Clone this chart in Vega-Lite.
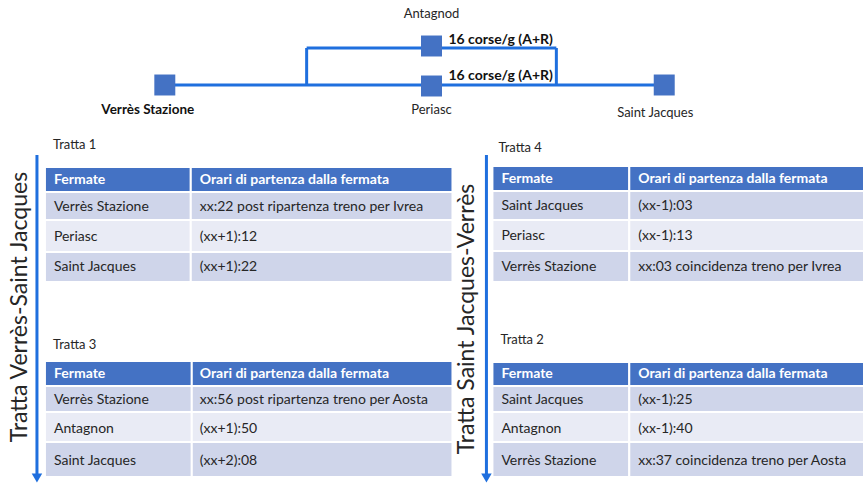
{
  "$schema": "https://vega.github.io/schema/vega-lite/v6.json",
  "width": 865,
  "height": 486,
  "autosize": {"type": "fit", "contains": "padding"},
  "padding": 0,
  "background": "white",
  "config": {"view": {"stroke": null}, "font": "Lato"},
  "datasets": {
    "cells": [
      {"t": "T1", "x": 45, "x2": 191, "y": 167, "y2": 192, "kind": "header"},
      {"t": "T1", "x": 191, "x2": 453, "y": 167, "y2": 192, "kind": "header"},
      {"t": "T1", "x": 45, "x2": 191, "y": 192, "y2": 220, "kind": "odd"},
      {"t": "T1", "x": 191, "x2": 453, "y": 192, "y2": 220, "kind": "odd"},
      {"t": "T1", "x": 45, "x2": 191, "y": 220, "y2": 252, "kind": "even"},
      {"t": "T1", "x": 191, "x2": 453, "y": 220, "y2": 252, "kind": "even"},
      {"t": "T1", "x": 45, "x2": 191, "y": 252, "y2": 282, "kind": "odd"},
      {"t": "T1", "x": 191, "x2": 453, "y": 252, "y2": 282, "kind": "odd"},
      {"t": "T3", "x": 45, "x2": 192, "y": 361, "y2": 386, "kind": "header"},
      {"t": "T3", "x": 192, "x2": 453, "y": 361, "y2": 386, "kind": "header"},
      {"t": "T3", "x": 45, "x2": 192, "y": 386, "y2": 412, "kind": "odd"},
      {"t": "T3", "x": 192, "x2": 453, "y": 386, "y2": 412, "kind": "odd"},
      {"t": "T3", "x": 45, "x2": 192, "y": 412, "y2": 442, "kind": "even"},
      {"t": "T3", "x": 192, "x2": 453, "y": 412, "y2": 442, "kind": "even"},
      {"t": "T3", "x": 45, "x2": 192, "y": 442, "y2": 477, "kind": "odd"},
      {"t": "T3", "x": 192, "x2": 453, "y": 442, "y2": 477, "kind": "odd"},
      {"t": "T4", "x": 493, "x2": 630, "y": 166, "y2": 191, "kind": "header"},
      {"t": "T4", "x": 630, "x2": 865, "y": 166, "y2": 191, "kind": "header"},
      {"t": "T4", "x": 493, "x2": 630, "y": 191, "y2": 220, "kind": "odd"},
      {"t": "T4", "x": 630, "x2": 865, "y": 191, "y2": 220, "kind": "odd"},
      {"t": "T4", "x": 493, "x2": 630, "y": 220, "y2": 251, "kind": "even"},
      {"t": "T4", "x": 630, "x2": 865, "y": 220, "y2": 251, "kind": "even"},
      {"t": "T4", "x": 493, "x2": 630, "y": 251, "y2": 282, "kind": "odd"},
      {"t": "T4", "x": 630, "x2": 865, "y": 251, "y2": 282, "kind": "odd"},
      {"t": "T2", "x": 493, "x2": 630, "y": 362, "y2": 386, "kind": "header"},
      {"t": "T2", "x": 630, "x2": 865, "y": 362, "y2": 386, "kind": "header"},
      {"t": "T2", "x": 493, "x2": 630, "y": 386, "y2": 412, "kind": "odd"},
      {"t": "T2", "x": 630, "x2": 865, "y": 386, "y2": 412, "kind": "odd"},
      {"t": "T2", "x": 493, "x2": 630, "y": 412, "y2": 442, "kind": "even"},
      {"t": "T2", "x": 630, "x2": 865, "y": 412, "y2": 442, "kind": "even"},
      {"t": "T2", "x": 493, "x2": 630, "y": 442, "y2": 477, "kind": "odd"},
      {"t": "T2", "x": 630, "x2": 865, "y": 442, "y2": 477, "kind": "odd"}
    ],
    "texts": [
      {"role": "head", "x": 54, "y": 180, "text": "Fermate"},
      {"role": "head", "x": 200, "y": 180, "text": "Orari di partenza dalla fermata"},
      {"role": "cell", "x": 54, "y": 207, "text": "Verrès Stazione"},
      {"role": "cell", "x": 200, "y": 207, "text": "xx:22 post ripartenza treno per Ivrea"},
      {"role": "cell", "x": 54, "y": 237, "text": "Periasc"},
      {"role": "cell", "x": 200, "y": 237, "text": "(xx+1):12"},
      {"role": "cell", "x": 54, "y": 267, "text": "Saint Jacques"},
      {"role": "cell", "x": 200, "y": 267, "text": "(xx+1):22"},
      {"role": "head", "x": 54, "y": 374, "text": "Fermate"},
      {"role": "head", "x": 200, "y": 374, "text": "Orari di partenza dalla fermata"},
      {"role": "cell", "x": 54, "y": 400, "text": "Verrès Stazione"},
      {"role": "cell", "x": 200, "y": 400, "text": "xx:56 post ripartenza treno per Aosta"},
      {"role": "cell", "x": 54, "y": 429, "text": "Antagnon"},
      {"role": "cell", "x": 200, "y": 429, "text": "(xx+1):50"},
      {"role": "cell", "x": 54, "y": 461, "text": "Saint Jacques"},
      {"role": "cell", "x": 200, "y": 461, "text": "(xx+2):08"},
      {"role": "head", "x": 502, "y": 179, "text": "Fermate"},
      {"role": "head", "x": 639, "y": 179, "text": "Orari di partenza dalla fermata"},
      {"role": "cell", "x": 502, "y": 206, "text": "Saint Jacques"},
      {"role": "cell", "x": 639, "y": 206, "text": "(xx-1):03"},
      {"role": "cell", "x": 502, "y": 236, "text": "Periasc"},
      {"role": "cell", "x": 639, "y": 236, "text": "(xx-1):13"},
      {"role": "cell", "x": 502, "y": 267, "text": "Verrès Stazione"},
      {"role": "cell", "x": 639, "y": 267, "text": "xx:03 coincidenza treno per Ivrea"},
      {"role": "head", "x": 502, "y": 374, "text": "Fermate"},
      {"role": "head", "x": 639, "y": 374, "text": "Orari di partenza dalla fermata"},
      {"role": "cell", "x": 502, "y": 400, "text": "Saint Jacques"},
      {"role": "cell", "x": 639, "y": 400, "text": "(xx-1):25"},
      {"role": "cell", "x": 502, "y": 429, "text": "Antagnon"},
      {"role": "cell", "x": 639, "y": 429, "text": "(xx-1):40"},
      {"role": "cell", "x": 502, "y": 461, "text": "Verrès Stazione"},
      {"role": "cell", "x": 639, "y": 461, "text": "xx:37 coincidenza treno per Aosta"},
      {"role": "label", "x": 53, "y": 145, "text": "Tratta 1"},
      {"role": "label", "x": 53, "y": 345, "text": "Tratta 3"},
      {"role": "label", "x": 499, "y": 148, "text": "Tratta 4"},
      {"role": "label", "x": 501, "y": 340, "text": "Tratta 2"},
      {"role": "bold", "x": 449, "y": 40, "text": "16 corse/g (A+R)"},
      {"role": "bold", "x": 449, "y": 76, "text": "16 corse/g (A+R)"},
      {"role": "station", "x": 432, "y": 14, "text": "Antagnod"},
      {"role": "stationbold", "x": 148, "y": 110, "text": "Verrès Stazione"},
      {"role": "station", "x": 432, "y": 110, "text": "Periasc"},
      {"role": "station", "x": 656, "y": 113, "text": "Saint Jacques"},
      {"role": "side", "x": 20, "y": 307, "text": "Tratta Verrès-Saint Jacques"},
      {"role": "side", "x": 468, "y": 319, "text": "Tratta Saint Jacques-Verrès"}
    ],
    "segs": [
      {"x": 165, "x2": 665, "y": 85, "y2": 85},
      {"x": 307, "x2": 307, "y": 85, "y2": 48},
      {"x": 307, "x2": 557, "y": 48, "y2": 48},
      {"x": 557, "x2": 557, "y": 48, "y2": 85},
      {"x": 37, "x2": 37, "y": 155, "y2": 474},
      {"x": 487, "x2": 487, "y": 155, "y2": 474}
    ],
    "heads": [
      {"x": 37, "y": 478},
      {"x": 487, "y": 478}
    ],
    "nodes": [
      {"name": "Verrès Stazione", "x": 165, "y": 85},
      {"name": "Periasc", "x": 432, "y": 86},
      {"name": "Saint Jacques", "x": 665, "y": 85},
      {"name": "Antagnod", "x": 432, "y": 46}
    ]
  },
  "layer": [
    {
      "data": {"name": "cells"},
      "mark": {"type": "rect", "stroke": "white", "strokeWidth": 2},
      "encoding": {
        "x": {"field": "x", "type": "quantitative", "scale": {"domain": [0, 865], "nice": false, "zero": false}, "axis": null},
        "x2": {"field": "x2"},
        "y": {"field": "y", "type": "quantitative", "scale": {"domain": [0, 486], "nice": false, "zero": false, "reverse": true}, "axis": null},
        "y2": {"field": "y2"},
        "color": {"field": "kind", "type": "nominal", "scale": {"domain": ["header", "odd", "even"], "range": ["#4472c4", "#cfd5ea", "#e9ebf5"]}, "legend": null}
      }
    },
    {
      "data": {"name": "segs"},
      "mark": {"type": "rule", "color": "#1f6fde", "strokeWidth": 3},
      "encoding": {
        "x": {"field": "x", "type": "quantitative"},
        "x2": {"field": "x2"},
        "y": {"field": "y", "type": "quantitative"},
        "y2": {"field": "y2"}
      }
    },
    {
      "data": {"name": "heads"},
      "mark": {"type": "point", "shape": "triangle-down", "filled": true, "color": "#1f6fde", "size": 110, "opacity": 1},
      "encoding": {
        "x": {"field": "x", "type": "quantitative"},
        "y": {"field": "y", "type": "quantitative"}
      }
    },
    {
      "data": {"name": "nodes"},
      "mark": {"type": "point", "shape": "square", "filled": true, "color": "#4472c4", "size": 440, "opacity": 1},
      "encoding": {
        "x": {"field": "x", "type": "quantitative"},
        "y": {"field": "y", "type": "quantitative"}
      }
    },
    {
      "data": {"name": "texts"},
      "transform": [{"filter": "datum.role === 'head'"}],
      "mark": {"type": "text", "align": "left", "baseline": "middle", "fontSize": 14, "fontWeight": "bold", "color": "white"},
      "encoding": {
        "x": {"field": "x", "type": "quantitative"},
        "y": {"field": "y", "type": "quantitative"},
        "text": {"field": "text"}
      }
    },
    {
      "data": {"name": "texts"},
      "transform": [{"filter": "datum.role === 'cell'"}],
      "mark": {"type": "text", "align": "left", "baseline": "middle", "fontSize": 14, "color": "#262626"},
      "encoding": {
        "x": {"field": "x", "type": "quantitative"},
        "y": {"field": "y", "type": "quantitative"},
        "text": {"field": "text"}
      }
    },
    {
      "data": {"name": "texts"},
      "transform": [{"filter": "datum.role === 'label'"}],
      "mark": {"type": "text", "align": "left", "baseline": "middle", "fontSize": 13, "color": "#262626"},
      "encoding": {
        "x": {"field": "x", "type": "quantitative"},
        "y": {"field": "y", "type": "quantitative"},
        "text": {"field": "text"}
      }
    },
    {
      "data": {"name": "texts"},
      "transform": [{"filter": "datum.role === 'bold'"}],
      "mark": {"type": "text", "align": "left", "baseline": "middle", "fontSize": 14, "fontWeight": "bold", "color": "#111111"},
      "encoding": {
        "x": {"field": "x", "type": "quantitative"},
        "y": {"field": "y", "type": "quantitative"},
        "text": {"field": "text"}
      }
    },
    {
      "data": {"name": "texts"},
      "transform": [{"filter": "datum.role === 'station'"}],
      "mark": {"type": "text", "align": "center", "baseline": "middle", "fontSize": 13, "color": "#262626"},
      "encoding": {
        "x": {"field": "x", "type": "quantitative"},
        "y": {"field": "y", "type": "quantitative"},
        "text": {"field": "text"}
      }
    },
    {
      "data": {"name": "texts"},
      "transform": [{"filter": "datum.role === 'stationbold'"}],
      "mark": {"type": "text", "align": "center", "baseline": "middle", "fontSize": 13.5, "fontWeight": "bold", "color": "#111111"},
      "encoding": {
        "x": {"field": "x", "type": "quantitative"},
        "y": {"field": "y", "type": "quantitative"},
        "text": {"field": "text"}
      }
    },
    {
      "data": {"name": "texts"},
      "transform": [{"filter": "datum.role === 'side'"}],
      "mark": {"type": "text", "align": "center", "baseline": "middle", "fontSize": 23, "angle": 270, "color": "#262626"},
      "encoding": {
        "x": {"field": "x", "type": "quantitative"},
        "y": {"field": "y", "type": "quantitative"},
        "text": {"field": "text"}
      }
    }
  ]
}
